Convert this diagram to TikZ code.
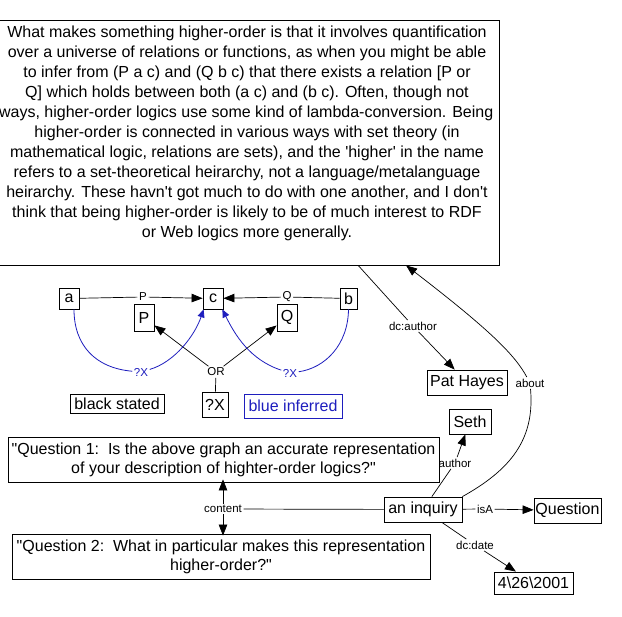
\documentclass[tikz,border=0pt]{standalone}
\usepackage{fontspec}
\setmainfont{Liberation Sans}
\usetikzlibrary{arrows.meta}
\definecolor{infblue}{RGB}{30,30,190}
\newcommand{\sq}{\textquotesingle}
\newcommand{\dq}{\textquotedbl}
\begin{document}
\begin{tikzpicture}[x=1pt,y=-1pt,
  bx/.style={draw, line width=0.8pt, inner sep=0pt, font=\fontsize{16}{19}\selectfont, align=center},
  lbl/.style={inner sep=1.5pt, font=\fontsize{11.5}{13}\selectfont},
  ln/.style={line width=0.7pt},
  arr/.style={line width=0.7pt, -{Triangle[length=11pt,width=8.5pt]}},
  barr/.style={line width=0.8pt, infblue, -{Triangle[length=8pt,width=7pt]}},
  bln/.style={line width=0.8pt, infblue}]
\useasboundingbox (0,0) rectangle (622,617);
\fill[white] (0,0) rectangle (622,617);

% big text box
\node[bx, minimum width=504pt, minimum height=245pt] (big) at (247,142.5) {};
\node[font=\fontsize{16}{20}\selectfont, align=center, inner sep=0pt] (bigtxt) at (247,133) {%
What makes something higher-order is that it involves quantification\\
over a universe of relations or functions, as when you might be able\\
to infer from (P a c) and (Q b c) that there exists a relation [P or\\
Q] which holds between both (a c) and (b c). Often, though not\\
\hbox{always, higher-order logics use some kind of lambda-conversion. Being\kern14pt}\\
higher-order is connected in various ways with set theory (in\\
mathematical logic, relations are sets), and the \sq higher\sq{} in the name\\
refers to a set-theoretical heirarchy, not a language/metalanguage\\
heirarchy. These havn\sq t got much to do with one another, and I don\sq t\\
think that being higher-order is likely to be of much interest to RDF\\
or Web logics more generally.};

% graph part
\node[bx, minimum width=20pt, minimum height=21pt] (a) at (69,298.5) {a};
\node[bx, minimum width=20pt, minimum height=21pt] (c) at (213,298.5) {c};
\node[bx, minimum width=17pt, minimum height=21pt] (b) at (348.5,298.5) {b};
\node[bx, minimum width=20pt, minimum height=27pt] (P) at (144,317.5) {P};
\node[bx, minimum width=20pt, minimum height=27pt] (Q) at (287,317.5) {Q};
\node[lbl] (Pl) at (143,297) {P};
\node[lbl] (Ql) at (287,297) {Q};
\node[lbl] (OR) at (216,372) {OR};
\node[lbl, text=infblue] (qx1) at (141,372) {?X};
\node[lbl, text=infblue] (qx2) at (290,373) {?X};
\node[bx, minimum width=26pt, minimum height=25pt] (X) at (215,404.5) {?X};
\node[bx, minimum width=94pt, minimum height=19pt] (black) at (117,404) {black stated};
\node[bx, draw=infblue, text=infblue, minimum width=98pt, minimum height=24pt] (blue) at (293,406) {blue inferred};

\draw[ln] (a) -- (Pl);
\draw[arr] (Pl) -- (c);
\draw[ln] (b) -- (Ql);
\draw[arr] (Ql) -- (c);
\draw[arr] (OR) -- (P);
\draw[arr] (OR) -- (Q);
\draw[ln] (OR) -- (X);

\draw[bln] ([xshift=5pt]a.south) .. controls (74,345) and (95,368) .. (qx1);
\draw[barr] (qx1) .. controls (175,362) and (195,335) .. ([xshift=1pt]c.south west);
\draw[bln] (b.south) .. controls (348,345) and (325,368) .. (qx2);
\draw[barr] (qx2) .. controls (250,360) and (235,335) .. ([xshift=-1pt]c.south east);

% right part
\node[lbl] (dca) at (413,326) {dc:author};
\node[bx, minimum width=80pt, minimum height=25pt] (pat) at (467,382.5) {Pat Hayes};
\node[lbl] (about) at (530,383) {about};
\node[bx, minimum width=42pt, minimum height=25pt] (seth) at (470,421.5) {Seth};
\node[lbl] (auth) at (455,463) {author};
\node[bx, minimum width=78pt, minimum height=25pt] (inq) at (423,509.5) {an inquiry};
\node[lbl] (isA) at (485,509) {isA};
\node[bx, minimum width=67pt, minimum height=25pt] (quest) at (567.5,510.5) {Question};
\node[lbl] (dcd) at (475,545) {dc:date};
\node[bx, minimum width=79pt, minimum height=22pt] (date) at (533.5,583) {4\textbackslash 26\textbackslash 2001};

\draw[ln] (big) -- (dca);
\draw[arr] (dca) -- (pat);
\draw[ln] (inq.north east) .. controls (510,470) and (535,440) .. (about);
\draw[arr] (about) .. controls (515,355) and (490,330) .. (big);
\draw[ln] (inq) -- (auth);
\draw[arr] (auth) -- (seth);
\draw[ln] (inq) -- (isA);
\draw[arr] (isA) -- (quest);
\draw[ln] (inq) -- (dcd);
\draw[arr] (dcd) -- (date);

% questions
\node[bx, minimum width=431pt, minimum height=45pt] (q1) at (223.5,459.5) {\dq Question 1:\ \ Is the above graph an accurate representation\\ of your description of highter-order logics?\dq};
\node[bx, minimum width=418pt, minimum height=45pt] (q2) at (221,556.5) {\dq Question 2:\ \ What in particular makes this representation\\ higher-order?\dq};
\node[lbl] (content) at (223,509) {content};
\draw[arr] (content) -- ([yshift=3pt]q1.south -| content);
\draw[arr] (content) -- ([yshift=-2pt]q2.north -| content);
\draw[ln] (content) -- (inq);
\end{tikzpicture}
\end{document}
